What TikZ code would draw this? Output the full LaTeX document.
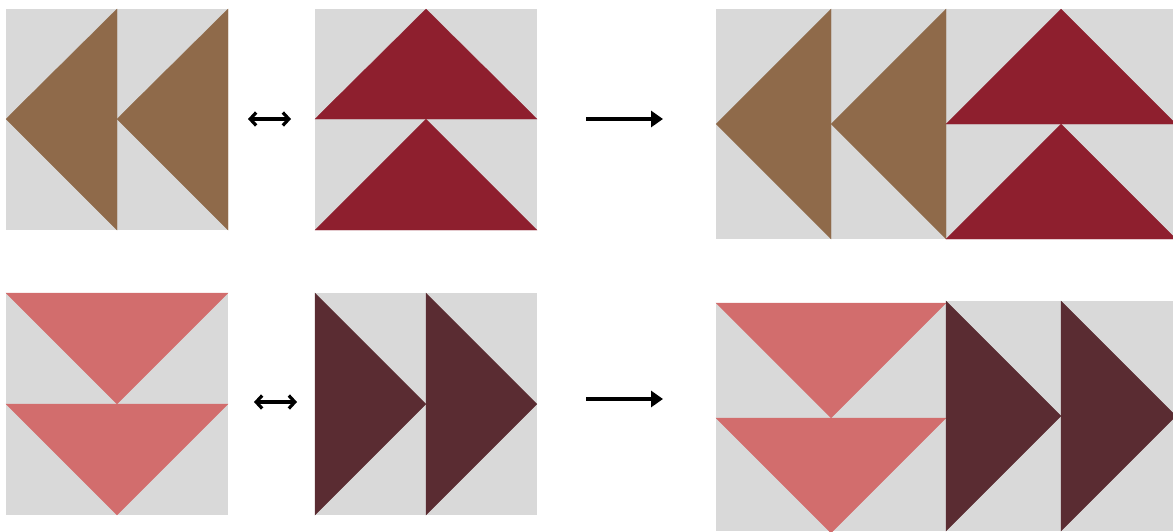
\documentclass[tikz,border=0pt]{standalone}
\usetikzlibrary{arrows.meta}
\definecolor{grayq}{HTML}{D9D9D9}
\definecolor{brownq}{HTML}{8F6A4A}
\definecolor{redq}{HTML}{8E1F2E}
\definecolor{pinkq}{HTML}{D26D6D}
\definecolor{darkq}{HTML}{5A2C32}
\tikzset{
  bg/.style={fill=grayq},
  tri/.style={line width=0.3pt},
  dbl/.style={line width=3.2pt,{Straight Barb[length=6pt,width=13pt,line width=3.2pt]}-{Straight Barb[length=6pt,width=13pt,line width=3.2pt]}},
  longarr/.style={line width=4pt,-{Triangle[length=12pt,width=16pt]}}
}
\begin{document}
\begin{tikzpicture}[x=1pt,y=-1pt]
\useasboundingbox (0,0) rectangle (1173,531);
% top-left: brown left-pointing
\fill[bg] (6,9) rectangle (228,230);
\fill[brownq,draw=brownq,tri] (6,119) -- (117,9) -- (117,230) -- cycle;
\fill[brownq,draw=brownq,tri] (117,119) -- (228,9) -- (228,230) -- cycle;
% top-middle: red up-pointing
\fill[bg] (315,9) rectangle (537,230);
\fill[redq,draw=redq,tri] (315,119) -- (426,9) -- (537,119) -- cycle;
\fill[redq,draw=redq,tri] (315,230) -- (426,119) -- (537,230) -- cycle;
% top-right combined
\fill[bg] (716,9) rectangle (1173,239);
\fill[brownq,draw=brownq,tri] (716,124) -- (831,9) -- (831,239) -- cycle;
\fill[brownq,draw=brownq,tri] (831,124) -- (946,9) -- (946,239) -- cycle;
\fill[redq,draw=redq,tri] (946,124) -- (1061,9) -- (1176,124) -- cycle;
\fill[redq,draw=redq,tri] (946,239) -- (1061,124) -- (1176,239) -- cycle;
% bottom-left: pink down-pointing
\fill[bg] (6,293) rectangle (228,515);
\fill[pinkq,draw=pinkq,tri] (6,293) -- (228,293) -- (117,404) -- cycle;
\fill[pinkq,draw=pinkq,tri] (6,404) -- (228,404) -- (117,515) -- cycle;
% bottom-middle: dark right-pointing
\fill[bg] (315,293) rectangle (537,515);
\fill[darkq,draw=darkq,tri] (315,293) -- (426,404) -- (315,515) -- cycle;
\fill[darkq,draw=darkq,tri] (426,293) -- (537,404) -- (426,515) -- cycle;
% bottom-right combined
\fill[bg] (716,303) rectangle (946,531);
\fill[bg] (946,301) rectangle (1173,531);
\fill[pinkq,draw=pinkq,tri] (716,303) -- (946,303) -- (831,418) -- cycle;
\fill[pinkq,draw=pinkq,tri] (716,418) -- (946,418) -- (831,533) -- cycle;
\fill[darkq,draw=darkq,tri] (946,301) -- (1061,416) -- (946,531) -- cycle;
\fill[darkq,draw=darkq,tri] (1061,301) -- (1176,416) -- (1061,531) -- cycle;
% arrows
\coordinate (a1) at (248,119); \coordinate (b1) at (291,119);
\coordinate (a2) at (254,402); \coordinate (b2) at (297,402);
\coordinate (c1) at (586,119); \coordinate (d1) at (663,119);
\coordinate (c2) at (586,399); \coordinate (d2) at (663,399);
\draw[dbl] (a1) -- (b1);
\draw[dbl] (a2) -- (b2);
\draw[longarr] (c1) -- (d1);
\draw[longarr] (c2) -- (d2);
\end{tikzpicture}
\end{document}
